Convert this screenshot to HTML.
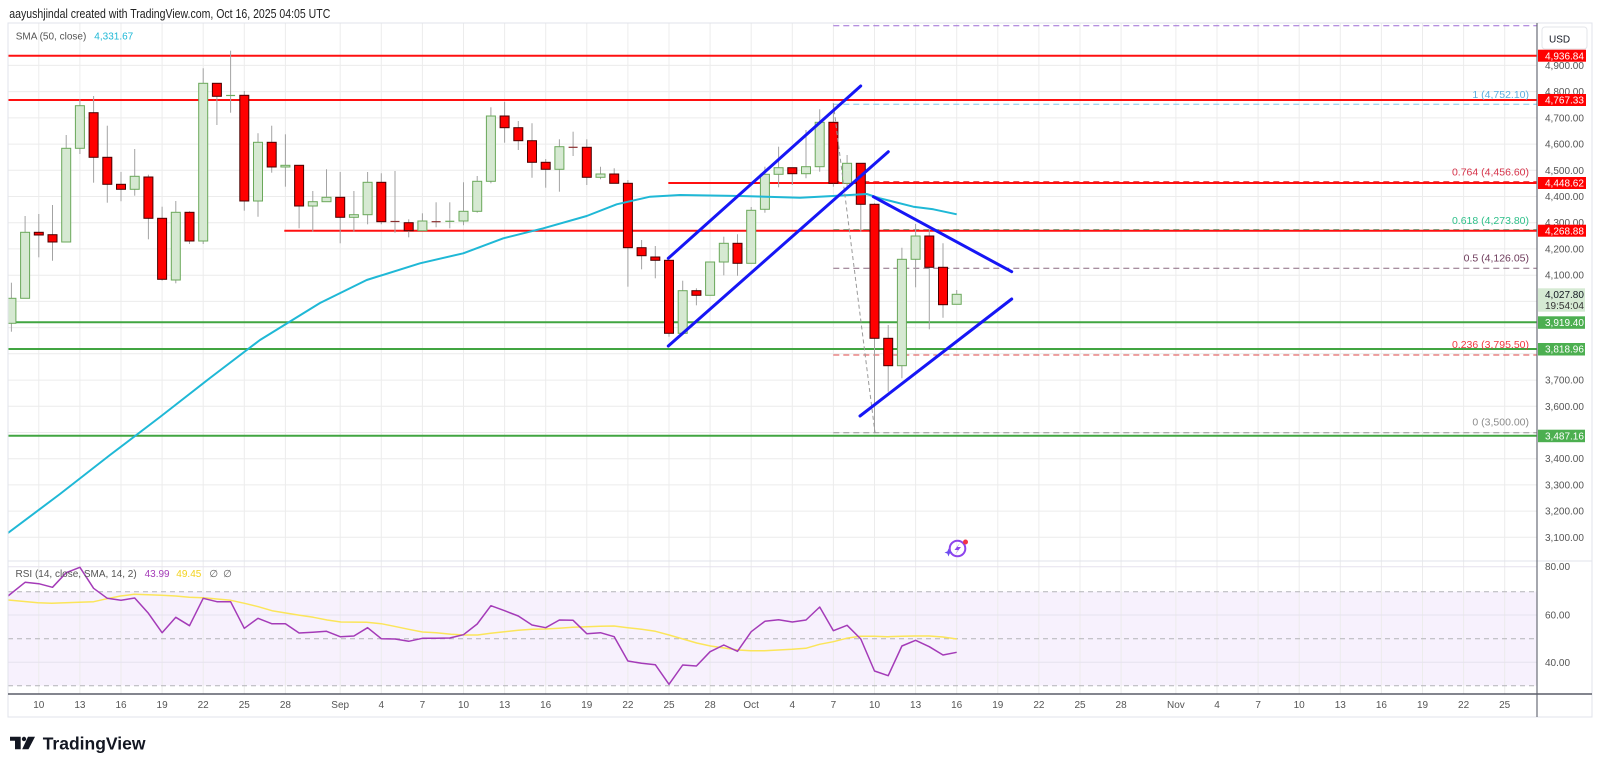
<!DOCTYPE html>
<html><head><meta charset="utf-8"><style>
html,body{margin:0;padding:0;background:#fff;width:1600px;height:770px;overflow:hidden}
svg{display:block}
text{font-family:"Liberation Sans",Arial,"DejaVu Sans",sans-serif}
</style></head><body>
<svg width="1600" height="770" viewBox="0 0 1600 770" xmlns="http://www.w3.org/2000/svg">
<defs><clipPath id="pp"><rect x="8" y="23" width="1529" height="538"/></clipPath>
<clipPath id="rp"><rect x="8" y="561" width="1529" height="133"/></clipPath></defs>
<rect width="1600" height="770" fill="#fff"/>
<rect x="8" y="591.7" width="1529" height="94" fill="#f7f1fd"/>
<g stroke="#ececec" stroke-width="1">
<line x1="38.8" y1="23" x2="38.8" y2="694"/><line x1="79.9" y1="23" x2="79.9" y2="694"/><line x1="121" y1="23" x2="121" y2="694"/><line x1="162.1" y1="23" x2="162.1" y2="694"/><line x1="203.2" y1="23" x2="203.2" y2="694"/><line x1="244.3" y1="23" x2="244.3" y2="694"/><line x1="285.4" y1="23" x2="285.4" y2="694"/><line x1="340.2" y1="23" x2="340.2" y2="694"/><line x1="381.3" y1="23" x2="381.3" y2="694"/><line x1="422.4" y1="23" x2="422.4" y2="694"/><line x1="463.5" y1="23" x2="463.5" y2="694"/><line x1="504.6" y1="23" x2="504.6" y2="694"/><line x1="545.7" y1="23" x2="545.7" y2="694"/><line x1="586.8" y1="23" x2="586.8" y2="694"/><line x1="627.9" y1="23" x2="627.9" y2="694"/><line x1="669" y1="23" x2="669" y2="694"/><line x1="710.1" y1="23" x2="710.1" y2="694"/><line x1="751.2" y1="23" x2="751.2" y2="694"/><line x1="792.3" y1="23" x2="792.3" y2="694"/><line x1="833.4" y1="23" x2="833.4" y2="694"/><line x1="874.5" y1="23" x2="874.5" y2="694"/><line x1="915.6" y1="23" x2="915.6" y2="694"/><line x1="956.7" y1="23" x2="956.7" y2="694"/><line x1="997.8" y1="23" x2="997.8" y2="694"/><line x1="1038.9" y1="23" x2="1038.9" y2="694"/><line x1="1080" y1="23" x2="1080" y2="694"/><line x1="1121.1" y1="23" x2="1121.1" y2="694"/><line x1="1175.9" y1="23" x2="1175.9" y2="694"/><line x1="1217" y1="23" x2="1217" y2="694"/><line x1="1258.1" y1="23" x2="1258.1" y2="694"/><line x1="1299.2" y1="23" x2="1299.2" y2="694"/><line x1="1340.3" y1="23" x2="1340.3" y2="694"/><line x1="1381.4" y1="23" x2="1381.4" y2="694"/><line x1="1422.5" y1="23" x2="1422.5" y2="694"/><line x1="1463.6" y1="23" x2="1463.6" y2="694"/><line x1="1504.7" y1="23" x2="1504.7" y2="694"/>
</g>
<g stroke="#ececec" stroke-width="1">
<line x1="8" y1="65.4" x2="1537" y2="65.4"/><line x1="8" y1="91.6" x2="1537" y2="91.6"/><line x1="8" y1="117.9" x2="1537" y2="117.9"/><line x1="8" y1="144.1" x2="1537" y2="144.1"/><line x1="8" y1="170.3" x2="1537" y2="170.3"/><line x1="8" y1="196.5" x2="1537" y2="196.5"/><line x1="8" y1="222.7" x2="1537" y2="222.7"/><line x1="8" y1="248.9" x2="1537" y2="248.9"/><line x1="8" y1="275.2" x2="1537" y2="275.2"/><line x1="8" y1="301.4" x2="1537" y2="301.4"/><line x1="8" y1="327.6" x2="1537" y2="327.6"/><line x1="8" y1="353.8" x2="1537" y2="353.8"/><line x1="8" y1="380.1" x2="1537" y2="380.1"/><line x1="8" y1="406.3" x2="1537" y2="406.3"/><line x1="8" y1="432.5" x2="1537" y2="432.5"/><line x1="8" y1="458.7" x2="1537" y2="458.7"/><line x1="8" y1="484.9" x2="1537" y2="484.9"/><line x1="8" y1="511.1" x2="1537" y2="511.1"/><line x1="8" y1="537.3" x2="1537" y2="537.3"/>
</g>
<g stroke="#e6e2ee" stroke-width="1">
<line x1="8" y1="566.7" x2="1537" y2="566.7"/><line x1="8" y1="615" x2="1537" y2="615"/><line x1="8" y1="662.3" x2="1537" y2="662.3"/>
</g>
<g stroke="#b4b4b8" stroke-width="1" stroke-dasharray="5 4">
<line x1="8" y1="591.7" x2="1537" y2="591.7"/><line x1="8" y1="638.7" x2="1537" y2="638.7"/><line x1="8" y1="685.7" x2="1537" y2="685.7"/>
</g>
<line x1="8" y1="561" x2="1592" y2="561" stroke="#e0e3eb" stroke-width="1"/>

<g stroke-width="1" stroke-dasharray="6 4">
<line x1="833.3" y1="25.7" x2="1537" y2="25.7" stroke="#9e6bd6"/>
<line x1="833.3" y1="104.3" x2="1537" y2="104.3" stroke="#7ec8ef"/>
<line x1="833.3" y1="181.6" x2="1537" y2="181.6" stroke="#e83a3a"/>
<line x1="833.3" y1="229.6" x2="1537" y2="229.6" stroke="#3dbf8a"/>
<line x1="833.3" y1="268.3" x2="1537" y2="268.3" stroke="#8a6a80"/>
<line x1="833.3" y1="355" x2="1537" y2="355" stroke="#e04848"/>
<line x1="833.3" y1="432.7" x2="1537" y2="432.7" stroke="#9a9a9a"/>
</g>
<g stroke-width="2">
<line x1="8" y1="55.7" x2="1537" y2="55.7" stroke="#ff1010"/>
<line x1="8" y1="100" x2="1537" y2="100" stroke="#ff1010"/>
<line x1="668.3" y1="183" x2="1537" y2="183" stroke="#ff1010"/>
<line x1="284.3" y1="230.7" x2="1537" y2="230.7" stroke="#ff1010"/>
<line x1="8" y1="322.3" x2="1537" y2="322.3" stroke="#41a541"/>
<line x1="8" y1="349" x2="1537" y2="349" stroke="#41a541"/>
<line x1="8" y1="435.7" x2="1537" y2="435.7" stroke="#41a541"/>
</g>
<g font-size="10.5" text-anchor="end">
<text x="1529" y="98" fill="#5aaee0">1 (4,752.10)</text>
<text x="1529" y="175.5" fill="#d6334a">0.764 (4,456.60)</text>
<text x="1529" y="223.8" fill="#2fc08a">0.618 (4,273.80)</text>
<text x="1529" y="261.5" fill="#6e3b5b">0.5 (4,126.05)</text>
<text x="1529" y="347.8" fill="#f0373f">0.236 (3,795.50)</text>
<text x="1529" y="425.5" fill="#8c8c8c">0 (3,500.00)</text>
</g>

<g clip-path="url(#pp)">
<g stroke="#a3a3a3" stroke-width="1">
<line x1="11.4" y1="282.7" x2="11.4" y2="331.7"/><line x1="25.1" y1="216" x2="25.1" y2="298.3"/><line x1="38.8" y1="214" x2="38.8" y2="257.3"/><line x1="52.5" y1="205" x2="52.5" y2="260.7"/><line x1="66.2" y1="135" x2="66.2" y2="242"/><line x1="79.9" y1="99.3" x2="79.9" y2="154"/><line x1="93.6" y1="96" x2="93.6" y2="182.7"/><line x1="107.3" y1="125.7" x2="107.3" y2="202.7"/><line x1="121" y1="172" x2="121" y2="201.3"/><line x1="134.7" y1="149" x2="134.7" y2="195.7"/><line x1="148.4" y1="174.7" x2="148.4" y2="239.3"/><line x1="162.1" y1="206.7" x2="162.1" y2="280.7"/><line x1="175.8" y1="201" x2="175.8" y2="283.3"/><line x1="189.5" y1="211.3" x2="189.5" y2="244"/><line x1="203.2" y1="68.3" x2="203.2" y2="244"/><line x1="216.9" y1="83.3" x2="216.9" y2="125"/><line x1="230.6" y1="50.7" x2="230.6" y2="112.7"/><line x1="244.3" y1="91" x2="244.3" y2="210.7"/><line x1="258" y1="133.3" x2="258" y2="216.7"/><line x1="271.7" y1="125.7" x2="271.7" y2="172.7"/><line x1="285.4" y1="134.3" x2="285.4" y2="186.7"/><line x1="299.1" y1="165.3" x2="299.1" y2="228.3"/><line x1="312.8" y1="191" x2="312.8" y2="231.7"/><line x1="326.5" y1="169.3" x2="326.5" y2="201.7"/><line x1="340.2" y1="172" x2="340.2" y2="243.3"/><line x1="353.9" y1="191" x2="353.9" y2="231.7"/><line x1="367.6" y1="172" x2="367.6" y2="224.3"/><line x1="381.3" y1="173.3" x2="381.3" y2="224.3"/><line x1="395" y1="171" x2="395" y2="232.7"/><line x1="408.7" y1="219.3" x2="408.7" y2="237.3"/><line x1="422.4" y1="213.3" x2="422.4" y2="230.7"/><line x1="436.1" y1="202.3" x2="436.1" y2="227.3"/><line x1="449.8" y1="202.3" x2="449.8" y2="228.3"/><line x1="463.5" y1="182.3" x2="463.5" y2="225.3"/><line x1="477.2" y1="176" x2="477.2" y2="212.7"/><line x1="490.9" y1="107.3" x2="490.9" y2="183.3"/><line x1="504.6" y1="101.7" x2="504.6" y2="142.7"/><line x1="518.3" y1="121" x2="518.3" y2="150"/><line x1="532" y1="123.3" x2="532" y2="177.7"/><line x1="545.7" y1="159" x2="545.7" y2="187.7"/><line x1="559.4" y1="139.3" x2="559.4" y2="191.7"/><line x1="573.1" y1="131.7" x2="573.1" y2="156"/><line x1="586.8" y1="139.3" x2="586.8" y2="185"/><line x1="600.5" y1="166.7" x2="600.5" y2="179.3"/><line x1="614.2" y1="168.3" x2="614.2" y2="183.3"/><line x1="627.9" y1="180" x2="627.9" y2="286.7"/><line x1="641.6" y1="240" x2="641.6" y2="269.3"/><line x1="655.3" y1="246" x2="655.3" y2="278.3"/><line x1="669" y1="260.3" x2="669" y2="336.7"/><line x1="682.7" y1="280.7" x2="682.7" y2="333.3"/><line x1="696.4" y1="288.3" x2="696.4" y2="305.3"/><line x1="710.1" y1="262" x2="710.1" y2="295.3"/><line x1="723.8" y1="236.7" x2="723.8" y2="275.3"/><line x1="737.5" y1="234.3" x2="737.5" y2="275.7"/><line x1="751.2" y1="207" x2="751.2" y2="263.3"/><line x1="764.9" y1="166.7" x2="764.9" y2="212.7"/><line x1="778.6" y1="146.7" x2="778.6" y2="187.3"/><line x1="792.3" y1="167.7" x2="792.3" y2="185"/><line x1="806" y1="130" x2="806" y2="178.3"/><line x1="819.7" y1="109.3" x2="819.7" y2="171.7"/><line x1="833.4" y1="103.3" x2="833.4" y2="186.7"/><line x1="847.1" y1="155" x2="847.1" y2="186.7"/><line x1="860.8" y1="163.3" x2="860.8" y2="231.7"/><line x1="874.5" y1="203.3" x2="874.5" y2="432.7"/><line x1="888.2" y1="325" x2="888.2" y2="391.7"/><line x1="901.9" y1="247.7" x2="901.9" y2="378.3"/><line x1="915.6" y1="224" x2="915.6" y2="287.3"/><line x1="929.3" y1="230" x2="929.3" y2="329.3"/><line x1="943" y1="243.3" x2="943" y2="317.7"/><line x1="956.7" y1="290" x2="956.7" y2="304.3"/>
</g>
<g fill="#d6e9d2" stroke="#6aa85a" stroke-width="1">
<rect x="6.9" y="298.3" width="9" height="25"/><rect x="20.6" y="232.3" width="9" height="66"/><rect x="61.7" y="148.3" width="9" height="93.7"/><rect x="75.4" y="105.7" width="9" height="42.6"/><rect x="130.2" y="176.3" width="9" height="13"/><rect x="171.3" y="212.3" width="9" height="67.7"/><rect x="198.7" y="83.3" width="9" height="157.7"/><rect x="253.5" y="142.3" width="9" height="58.7"/><rect x="280.9" y="165.3" width="9" height="1.7"/><rect x="308.3" y="201.7" width="9" height="4.3"/><rect x="322" y="197.3" width="9" height="4.4"/><rect x="349.4" y="214.7" width="9" height="2.6"/><rect x="363.1" y="182.3" width="9" height="32.4"/><rect x="417.9" y="221" width="9" height="9.7"/><rect x="459" y="211.3" width="9" height="9.7"/><rect x="472.7" y="181.3" width="9" height="30"/><rect x="486.4" y="116" width="9" height="65.3"/><rect x="554.9" y="146.7" width="9" height="22.6"/><rect x="596" y="174" width="9" height="3.3"/><rect x="678.2" y="290.7" width="9" height="42.6"/><rect x="705.6" y="262" width="9" height="33.3"/><rect x="719.3" y="243.3" width="9" height="18.7"/><rect x="746.7" y="210.3" width="9" height="53"/><rect x="760.4" y="174.3" width="9" height="35"/><rect x="774.1" y="167.7" width="9" height="6.6"/><rect x="801.5" y="166.7" width="9" height="7"/><rect x="815.2" y="122.3" width="9" height="44.4"/><rect x="842.6" y="163.3" width="9" height="20"/><rect x="897.4" y="259.3" width="9" height="106.4"/><rect x="911.1" y="236" width="9" height="23.3"/><rect x="952.2" y="294.3" width="9" height="10"/>
</g>
<g stroke="#6aa85a" stroke-width="1.2">
<line x1="226.1" y1="95.5" x2="235.1" y2="95.5"/><line x1="445.3" y1="221.3" x2="454.3" y2="221.3"/>
</g>
<g stroke="#8a3030" stroke-width="1.2">
<line x1="390.5" y1="221.5" x2="399.5" y2="221.5"/><line x1="431.6" y1="221.7" x2="440.6" y2="221.7"/><line x1="568.6" y1="147.3" x2="577.6" y2="147.3"/>
</g>
<g fill="#ff0000" stroke="#4a0000" stroke-width="1">
<rect x="34.3" y="232.3" width="9" height="2.7"/><rect x="48" y="234.7" width="9" height="7.3"/><rect x="89.1" y="112.7" width="9" height="44.6"/><rect x="102.8" y="157.3" width="9" height="27"/><rect x="116.5" y="184.3" width="9" height="5"/><rect x="143.9" y="177" width="9" height="41.3"/><rect x="157.6" y="218.3" width="9" height="61"/><rect x="185" y="212.3" width="9" height="28.7"/><rect x="212.4" y="83.3" width="9" height="13"/><rect x="239.8" y="95.3" width="9" height="105.7"/><rect x="267.2" y="142.3" width="9" height="24.7"/><rect x="294.6" y="165.3" width="9" height="40.7"/><rect x="335.7" y="197.3" width="9" height="20"/><rect x="376.8" y="182.3" width="9" height="39.4"/><rect x="404.2" y="222.7" width="9" height="8"/><rect x="500.1" y="116" width="9" height="11.7"/><rect x="513.8" y="127.7" width="9" height="13"/><rect x="527.5" y="140.7" width="9" height="21.6"/><rect x="541.2" y="162.3" width="9" height="7"/><rect x="582.3" y="147.3" width="9" height="30"/><rect x="609.7" y="174" width="9" height="9.3"/><rect x="623.4" y="183.3" width="9" height="64.4"/><rect x="637.1" y="247.7" width="9" height="8"/><rect x="650.8" y="257" width="9" height="3.3"/><rect x="664.5" y="260.3" width="9" height="73"/><rect x="691.9" y="290.7" width="9" height="4.6"/><rect x="733" y="243.3" width="9" height="20"/><rect x="787.8" y="167.7" width="9" height="6"/><rect x="828.9" y="122.3" width="9" height="61"/><rect x="856.3" y="163.3" width="9" height="41"/><rect x="870" y="204.3" width="9" height="134"/><rect x="883.7" y="338.3" width="9" height="27.4"/><rect x="924.8" y="236" width="9" height="31.3"/><rect x="938.5" y="267.3" width="9" height="37.4"/>
</g>
<polyline fill="none" stroke="#1fb8d6" stroke-width="2" stroke-linejoin="round" points="8,533 60,494 110,455 160,417 210,378 260,340 320,303 366.7,280 420,263.3 463.3,253.3 503.3,238.3 543.3,228.3 586.7,216 616.7,204.3 650,196.7 680,195 740,196 800,197.7 833,196 866.7,194 880,198.3 913.3,206.7 933.3,209.3 956.7,214.3"/>
<line x1="833.3" y1="103.3" x2="875" y2="432.7" stroke="#999" stroke-width="1" stroke-dasharray="4 3"/>
<g stroke="#1616f5" stroke-width="3" stroke-linecap="round">
<line x1="668.3" y1="258.3" x2="860.7" y2="86"/>
<line x1="668.3" y1="346" x2="888.3" y2="151.7"/>
<line x1="873.3" y1="196.7" x2="1011.7" y2="271.7"/>
<line x1="860" y1="416" x2="1011.7" y2="299"/>
</g>
</g>

<g clip-path="url(#rp)" fill="none" stroke-linejoin="round">
<polyline stroke="#fbe55a" stroke-width="1.5" points="8.3,600 37.9,602.7 51.7,603.3 79.2,602.3 93.7,601.7 107.1,598.7 120.5,596 134.3,594.3 161.8,595.3 175.6,596 189.4,597.3 203.2,597.7 230.7,600.3 244.5,603.3 258.3,606.7 272,610.7 285.8,613 299.6,615.3 313.4,617.3 327.1,620 340.9,622 366.7,622.3 381.2,623.7 394.3,626.3 408.7,629.3 422.5,632 436.3,632.7 451.1,634.3 464.9,635 477.6,635 490.7,633.3 504.5,631.7 518.3,630.3 532,629.3 545.2,629 558.9,628.3 572.7,627.3 586.5,626.7 600.3,626.3 614,626 627.8,627.7 641.6,629.3 655.4,631.3 669.1,635 682.9,639 696.7,643 710.5,646 724.2,648 738,650 750.7,650.7 764.5,650.7 778.3,650 792.1,649.3 805.8,648.3 819.6,644.3 833.4,641.7 846.5,638.3 860.2,636.3 874,636.3 887.8,636.7 901.6,636.3 915.3,636 929.1,636 942.9,637 956.7,639"/>
<polyline stroke="#a43bb8" stroke-width="1.5" points="8,596 25.1,582.3 38.8,583.7 52.5,587.3 66.2,572.7 79.9,567.3 93.6,588.3 107.3,598.3 121,600.3 134.7,598 148.4,613.3 162.1,632.7 175.8,617.3 189.5,625.7 203.2,598.3 216.9,601.7 230.6,601.7 244.3,628.3 258,618.3 271.7,623.7 285.4,623.7 299.1,633 312.8,632.3 326.5,631.3 340.2,636.7 353.9,636 367.6,627.7 381.3,638.7 395,639 408.7,641.3 422.4,638.3 436.1,638.3 449.8,638 463.5,634.7 477.2,624 490.9,605.7 504.6,610.7 518.3,616 532,625 545.7,627.7 559.4,620 573.1,620.3 586.8,633.7 600.5,632.7 614.2,636.7 627.9,661 641.6,663.3 655.3,664.7 669,684.3 682.7,665 696.4,666 710.1,651.7 723.8,645 737.5,651.3 751.2,631.7 764.9,621.3 778.6,619.7 792.3,622 806,620 819.7,607 833.4,630.7 847.1,625.3 860.8,639 874.5,671 888.2,675.7 901.9,646 915.6,640.3 929.3,646.7 943,655 956.7,652.3"/>
</g>

<rect x="8" y="23" width="1584" height="694" fill="none" stroke="#e0e3eb" stroke-width="1"/>
<line x1="1537" y1="23" x2="1537" y2="717" stroke="#6a6d78" stroke-width="1.2"/>
<line x1="8" y1="694" x2="1592" y2="694" stroke="#5a5d68" stroke-width="1.5"/>

<g font-size="10" fill="#555">
<text x="1545" y="69">4,900.00</text><text x="1545" y="95.1">4,800.00</text><text x="1545" y="121.4">4,700.00</text><text x="1545" y="147.6">4,600.00</text><text x="1545" y="173.8">4,500.00</text><text x="1545" y="200">4,400.00</text><text x="1545" y="226.2">4,300.00</text><text x="1545" y="252.4">4,200.00</text><text x="1545" y="278.7">4,100.00</text><text x="1545" y="383.6">3,700.00</text><text x="1545" y="409.8">3,600.00</text><text x="1545" y="462.2">3,400.00</text><text x="1545" y="488.4">3,300.00</text><text x="1545" y="514.6">3,200.00</text><text x="1545" y="540.8">3,100.00</text>
<text x="1545" y="570.2">80.00</text><text x="1545" y="618.5">60.00</text><text x="1545" y="665.8">40.00</text>
</g>
<rect x="1542" y="27" width="45" height="22" rx="3" fill="#fff" stroke="#e3e5ea"/>
<text x="1549" y="42.5" font-size="10" fill="#131722">USD</text>
<g fill="#ff0000">
<rect x="1538" y="49.7" width="48" height="12"/><rect x="1538" y="94" width="48" height="12"/><rect x="1538" y="177" width="48" height="12"/><rect x="1538" y="224.7" width="48" height="12"/>
</g>
<g fill="#4caf50">
<rect x="1538" y="316.3" width="47" height="12.5"/><rect x="1538" y="343" width="47" height="12.5"/><rect x="1538" y="429.7" width="47" height="12.5"/>
</g>
<rect x="1538" y="288.3" width="47" height="23.4" fill="#d5ead3"/>
<g font-size="10" fill="#fff">
<text x="1545" y="59.3">4,936.84</text><text x="1545" y="103.6">4,767.33</text><text x="1545" y="186.6">4,448.62</text><text x="1545" y="234.3">4,268.88</text>
<text x="1545" y="326">3,919.40</text><text x="1545" y="352.7">3,818.96</text><text x="1545" y="439.4">3,487.16</text>
</g>
<text x="1545" y="298" font-size="10" fill="#131722">4,027.80</text>
<text x="1545" y="309" font-size="10" fill="#333">19:54:04</text>

<g font-size="10" fill="#555" text-anchor="middle">
<text x="38.8" y="708">10</text><text x="79.9" y="708">13</text><text x="121" y="708">16</text><text x="162.1" y="708">19</text><text x="203.2" y="708">22</text><text x="244.3" y="708">25</text><text x="285.4" y="708">28</text><text x="340.2" y="708">Sep</text><text x="381.3" y="708">4</text><text x="422.4" y="708">7</text><text x="463.5" y="708">10</text><text x="504.6" y="708">13</text><text x="545.7" y="708">16</text><text x="586.8" y="708">19</text><text x="627.9" y="708">22</text><text x="669" y="708">25</text><text x="710.1" y="708">28</text><text x="751.2" y="708">Oct</text><text x="792.3" y="708">4</text><text x="833.4" y="708">7</text><text x="874.5" y="708">10</text><text x="915.6" y="708">13</text><text x="956.7" y="708">16</text><text x="997.8" y="708">19</text><text x="1038.9" y="708">22</text><text x="1080" y="708">25</text><text x="1121.1" y="708">28</text><text x="1175.9" y="708">Nov</text><text x="1217" y="708">4</text><text x="1258.1" y="708">7</text><text x="1299.2" y="708">10</text><text x="1340.3" y="708">13</text><text x="1381.4" y="708">16</text><text x="1422.5" y="708">19</text><text x="1463.6" y="708">22</text><text x="1504.7" y="708">25</text>
</g>

<text x="9.3" y="18" font-size="12.5" fill="#222" textLength="321" lengthAdjust="spacingAndGlyphs">aayushjindal created with TradingView.com, Oct 16, 2025 04:05 UTC</text>
<text x="15.7" y="39.5" font-size="10" fill="#555">SMA (50, close)</text>
<text x="94.3" y="39.5" font-size="10" fill="#1fb8d6">4,331.67</text>
<text x="15.5" y="577" font-size="10" fill="#555">RSI (14, close, SMA, 14, 2)</text>
<text x="144.6" y="577" font-size="10" fill="#a43bb8">43.99</text>
<text x="176.3" y="577" font-size="10" fill="#f2d21c">49.45</text>
<text x="209.4" y="577" font-size="10" fill="#555">∅</text>
<text x="223.1" y="577" font-size="10" fill="#555">∅</text>

<g>
<circle cx="957.5" cy="548.5" r="7.8" fill="none" stroke="#8e44ec" stroke-width="2"/>
<path d="M960 543 L954.5 550 L958 550 L955 554.5 L961 547 L957.5 547 Z" fill="#8e44ec"/>
<circle cx="965.5" cy="542" r="2.5" fill="#f23645"/>
<path d="M948.5 548.5 L949.6 551.4 L952.5 552.5 L949.6 553.6 L948.5 556.5 L947.4 553.6 L944.5 552.5 L947.4 551.4 Z" fill="#6c4cf0"/>
</g>

<g fill="#131722">
<polygon points="10,736.7 20.7,736.7 20.7,749.3 15,749.3 15,740.7 10,740.7"/>
<circle cx="24" cy="739" r="2.2"/>
<polygon points="28,736.7 35,736.7 28.5,749.3 22.2,749.3"/>
</g>
<text x="42.7" y="749.3" font-size="17.5" font-weight="bold" fill="#131722">TradingView</text>
</svg>
</body></html>
